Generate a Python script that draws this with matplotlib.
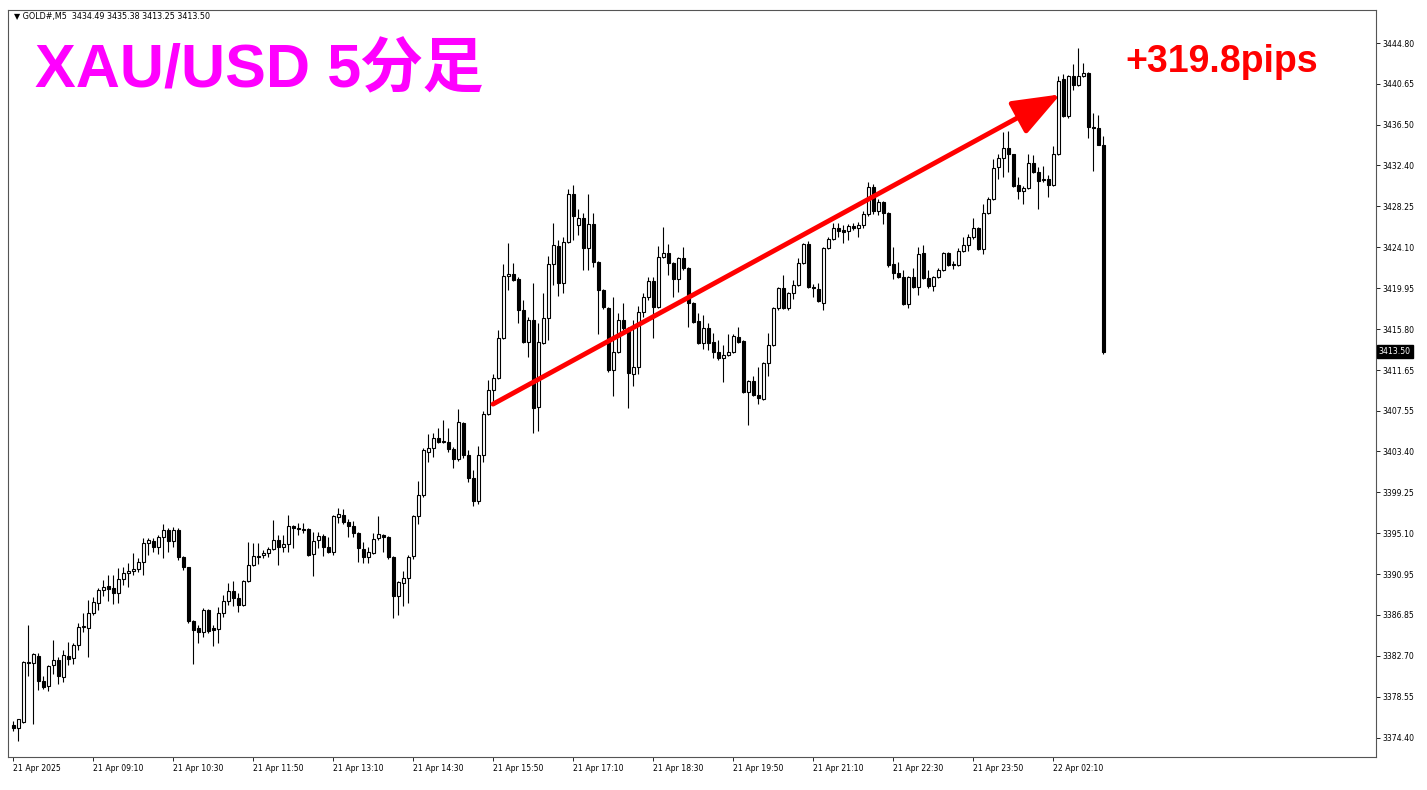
import matplotlib
matplotlib.use("Agg")
import matplotlib.pyplot as plt

# 5-minute candles, 21 Apr 2025 07:50 -> 22 Apr 03:00 (server time)
opens = [
    3375.7, 3375.4, 3376.0, 3382.1, 3382.0, 3382.7, 3380.1, 3379.6, 3381.8, 3382.3,
    3380.5, 3382.7, 3382.5, 3383.8, 3385.6, 3385.5, 3387.0, 3388.0, 3389.4, 3389.8,
    3389.6, 3389.1, 3390.5, 3391.1, 3391.3, 3391.5, 3392.2, 3394.1, 3394.3, 3393.7,
    3394.7, 3395.4, 3394.3, 3395.4, 3392.7, 3391.7, 3386.2, 3385.5, 3385.1, 3387.3,
    3385.5, 3385.4, 3387.0, 3388.2, 3389.3, 3388.5, 3387.8, 3390.3, 3391.9, 3392.8,
    3392.9, 3393.1, 3393.5, 3394.4, 3393.7, 3394.0, 3395.8, 3395.6, 3395.5, 3395.5,
    3393.0, 3394.4, 3394.8, 3393.7, 3393.2, 3396.8, 3397.0, 3396.3, 3395.8, 3395.1,
    3393.5, 3392.7, 3393.1, 3394.6, 3394.9, 3394.7, 3392.7, 3388.8, 3390.1, 3390.6,
    3392.8, 3396.9, 3399.0, 3403.3, 3403.8, 3404.8, 3404.4, 3404.4, 3403.6, 3402.6,
    3406.3, 3403.0, 3400.7, 3398.4, 3403.0, 3407.2, 3409.6, 3410.8, 3414.9, 3421.2,
    3421.4, 3420.9, 3417.7, 3414.5, 3416.7, 3407.9, 3414.4, 3416.9, 3422.4, 3424.2,
    3420.5, 3424.6, 3429.5, 3426.4, 3427.1, 3424.0, 3426.5, 3422.6, 3419.8, 3417.9,
    3411.7, 3413.5, 3416.7, 3415.9, 3411.3, 3412.0, 3417.5, 3419.1, 3420.7, 3418.0,
    3423.1, 3423.5, 3422.5, 3420.9, 3423.0, 3422.0, 3418.5, 3416.6, 3414.4, 3415.9,
    3414.5, 3413.5, 3412.9, 3413.2, 3413.5, 3415.0, 3414.6, 3409.4, 3410.5, 3409.1,
    3408.7, 3412.4, 3414.2, 3417.9, 3420.0, 3417.9, 3419.5, 3420.3, 3422.5, 3424.4,
    3420.1, 3419.9, 3418.5, 3424.0, 3424.9, 3426.1, 3425.8, 3425.7, 3426.3, 3426.1,
    3426.4, 3427.5, 3430.2, 3427.8, 3428.7, 3427.6, 3422.4, 3421.5, 3421.1, 3418.3,
    3421.1, 3420.1, 3423.5, 3421.0, 3420.2, 3421.1, 3421.8, 3423.5, 3422.4, 3422.3,
    3423.7, 3424.3, 3425.1, 3426.1, 3423.9, 3427.6, 3429.0, 3432.2, 3433.1, 3434.2,
    3433.6, 3430.4, 3429.8, 3430.1, 3432.6, 3431.7, 3430.9, 3431.0, 3430.4, 3433.6,
    3441.2, 3437.4, 3441.5, 3440.5, 3441.5, 3441.8, 3436.3, 3436.2, 3434.49,
]
highs = [
    3376.1, 3376.3, 3382.2, 3385.8, 3383.0, 3383.0, 3380.6, 3381.8, 3384.3, 3382.6,
    3383.3, 3384.1, 3384.0, 3386.0, 3387.0, 3388.3, 3388.6, 3389.6, 3390.4, 3390.9,
    3390.9, 3391.6, 3391.7, 3392.1, 3393.1, 3392.6, 3394.6, 3394.6, 3394.6, 3394.9,
    3396.0, 3395.6, 3395.7, 3395.6, 3392.8, 3391.7, 3386.3, 3385.8, 3387.5, 3387.4,
    3385.8, 3387.6, 3388.9, 3390.1, 3390.3, 3389.1, 3390.4, 3394.2, 3394.1, 3394.1,
    3393.4, 3393.7, 3396.5, 3394.9, 3394.9, 3397.0, 3395.9, 3396.1, 3396.2, 3395.6,
    3395.2, 3395.2, 3395.0, 3394.7, 3397.0, 3397.7, 3397.6, 3396.6, 3396.4, 3395.2,
    3394.2, 3393.7, 3395.1, 3396.9, 3395.0, 3394.8, 3392.8, 3390.3, 3391.3, 3392.9,
    3397.0, 3400.4, 3403.8, 3405.2, 3405.3, 3405.8, 3406.6, 3405.8, 3403.9, 3407.7,
    3406.4, 3403.5, 3401.5, 3404.0, 3407.5, 3410.6, 3411.3, 3415.7, 3422.4, 3424.5,
    3422.5, 3421.1, 3418.8, 3417.0, 3420.5, 3416.4, 3419.5, 3423.2, 3426.6, 3424.8,
    3425.1, 3430.0, 3430.4, 3428.0, 3427.6, 3429.5, 3427.6, 3422.7, 3419.9, 3418.0,
    3419.1, 3417.4, 3418.5, 3416.0, 3416.7, 3418.1, 3419.5, 3421.1, 3421.1, 3424.2,
    3426.2, 3424.4, 3422.6, 3423.1, 3424.1, 3422.1, 3418.6, 3417.4, 3417.2, 3416.4,
    3415.4, 3414.7, 3414.2, 3415.3, 3415.3, 3416.0, 3414.7, 3410.6, 3411.1, 3412.0,
    3412.5, 3415.4, 3418.0, 3420.1, 3421.3, 3419.6, 3420.8, 3423.0, 3424.5, 3424.7,
    3420.4, 3420.5, 3424.1, 3425.1, 3426.6, 3426.6, 3426.4, 3426.5, 3426.6, 3426.7,
    3427.8, 3430.7, 3430.5, 3429.0, 3428.8, 3427.7, 3424.1, 3422.6, 3421.8, 3421.2,
    3422.0, 3424.1, 3424.3, 3421.8, 3421.2, 3422.0, 3423.6, 3423.6, 3422.7, 3424.0,
    3425.1, 3425.4, 3427.1, 3426.2, 3428.5, 3429.2, 3433.0, 3433.6, 3435.8, 3435.9,
    3433.6, 3431.2, 3430.3, 3433.6, 3433.5, 3432.2, 3432.3, 3431.4, 3434.4, 3441.5,
    3441.7, 3441.6, 3442.7, 3444.3, 3442.8, 3441.9, 3437.7, 3437.5, 3435.38,
]
lows = [
    3375.1, 3374.1, 3375.9, 3380.6, 3375.8, 3379.2, 3379.3, 3379.1, 3380.8, 3379.8,
    3380.0, 3381.8, 3381.9, 3383.3, 3385.1, 3382.6, 3386.8, 3387.3, 3388.7, 3388.2,
    3387.9, 3388.0, 3389.9, 3389.7, 3390.9, 3391.2, 3390.9, 3392.9, 3393.2, 3393.0,
    3392.6, 3393.2, 3393.7, 3392.4, 3391.4, 3386.0, 3381.9, 3384.0, 3384.6, 3385.0,
    3383.7, 3384.0, 3386.6, 3387.8, 3387.7, 3387.1, 3387.7, 3390.2, 3391.8, 3392.0,
    3392.6, 3392.7, 3393.4, 3391.9, 3393.2, 3393.2, 3393.6, 3394.9, 3395.1, 3392.8,
    3390.8, 3393.6, 3392.8, 3393.1, 3392.9, 3396.1, 3396.0, 3394.7, 3394.7, 3392.2,
    3392.1, 3392.1, 3393.0, 3394.4, 3393.2, 3392.5, 3386.5, 3386.8, 3387.7, 3388.0,
    3392.5, 3396.0, 3398.8, 3402.3, 3402.8, 3404.3, 3404.3, 3403.3, 3401.7, 3402.4,
    3402.7, 3400.3, 3397.9, 3398.1, 3402.3, 3407.1, 3408.5, 3410.7, 3414.8, 3419.8,
    3420.7, 3416.4, 3414.4, 3413.0, 3405.3, 3405.5, 3414.3, 3414.7, 3420.3, 3419.2,
    3419.5, 3424.5, 3424.8, 3425.3, 3421.8, 3421.8, 3422.1, 3415.3, 3417.8, 3411.5,
    3409.0, 3413.4, 3415.7, 3407.8, 3410.0, 3411.3, 3417.0, 3418.8, 3414.9, 3417.9,
    3423.0, 3421.3, 3419.1, 3419.6, 3421.8, 3416.0, 3416.4, 3414.3, 3413.8, 3413.7,
    3412.9, 3412.7, 3410.4, 3413.1, 3413.4, 3414.4, 3409.3, 3406.1, 3409.0, 3408.2,
    3408.6, 3411.1, 3414.1, 3417.7, 3417.8, 3417.7, 3418.9, 3420.2, 3422.4, 3420.0,
    3419.1, 3418.6, 3417.7, 3423.9, 3424.8, 3425.1, 3424.5, 3424.8, 3425.9, 3425.1,
    3426.1, 3427.3, 3427.5, 3427.4, 3426.5, 3422.1, 3420.9, 3421.0, 3418.2, 3417.9,
    3420.0, 3419.3, 3420.9, 3420.0, 3419.7, 3421.0, 3421.7, 3422.2, 3421.9, 3422.2,
    3423.6, 3423.7, 3424.9, 3423.8, 3423.4, 3427.5, 3428.9, 3431.0, 3431.2, 3431.7,
    3430.2, 3429.0, 3428.5, 3430.0, 3431.6, 3428.0, 3430.7, 3429.2, 3430.3, 3433.5,
    3437.3, 3437.2, 3440.0, 3440.4, 3441.4, 3435.2, 3431.8, 3434.5, 3413.25,
]
closes = [
    3375.4, 3376.3, 3382.1, 3382.0, 3382.9, 3380.1, 3379.5, 3381.7, 3382.3, 3380.6,
    3382.8, 3382.4, 3383.8, 3385.6, 3385.7, 3387.0, 3388.1, 3389.4, 3389.7, 3389.5,
    3389.1, 3390.5, 3391.1, 3391.3, 3391.5, 3392.2, 3394.1, 3394.4, 3393.7, 3394.7,
    3395.4, 3394.3, 3395.4, 3392.7, 3391.7, 3386.2, 3385.3, 3385.1, 3387.3, 3385.2,
    3385.3, 3387.0, 3388.2, 3389.3, 3388.5, 3387.8, 3390.3, 3391.9, 3392.8, 3392.7,
    3393.1, 3393.5, 3394.4, 3393.7, 3394.0, 3395.8, 3395.6, 3395.5, 3395.4, 3392.9,
    3394.3, 3394.8, 3393.7, 3393.2, 3396.9, 3397.1, 3396.3, 3395.8, 3395.1, 3393.6,
    3392.7, 3393.2, 3394.5, 3395.0, 3394.7, 3392.7, 3388.8, 3390.2, 3390.6, 3392.7,
    3396.9, 3399.0, 3403.5, 3403.8, 3404.8, 3404.4, 3404.5, 3403.6, 3402.6, 3406.4,
    3403.0, 3400.7, 3398.4, 3403.0, 3407.2, 3409.6, 3410.8, 3414.9, 3421.2, 3421.4,
    3420.8, 3417.7, 3414.5, 3416.7, 3407.8, 3414.5, 3416.9, 3422.4, 3424.3, 3420.5,
    3424.6, 3429.5, 3427.3, 3427.1, 3424.0, 3426.5, 3422.6, 3419.8, 3418.0, 3411.7,
    3413.5, 3416.7, 3415.9, 3411.4, 3412.0, 3417.5, 3419.1, 3420.7, 3418.0, 3423.1,
    3423.5, 3422.5, 3420.9, 3423.0, 3422.0, 3418.5, 3416.5, 3414.4, 3415.9, 3414.4,
    3413.5, 3412.9, 3413.2, 3413.5, 3415.1, 3414.5, 3409.4, 3410.5, 3409.1, 3408.8,
    3412.4, 3414.2, 3417.9, 3420.0, 3417.9, 3419.5, 3420.3, 3422.5, 3424.4, 3420.1,
    3420.0, 3418.7, 3424.0, 3424.9, 3426.1, 3425.7, 3425.6, 3426.3, 3426.1, 3426.4,
    3427.5, 3430.2, 3427.8, 3428.7, 3427.6, 3422.3, 3421.5, 3421.1, 3418.3, 3421.1,
    3420.1, 3423.4, 3421.0, 3420.2, 3421.1, 3421.8, 3423.5, 3422.3, 3422.3, 3423.7,
    3424.3, 3425.1, 3426.1, 3423.9, 3427.6, 3429.0, 3432.1, 3433.1, 3434.2, 3433.6,
    3430.3, 3429.8, 3430.1, 3432.6, 3431.7, 3430.8, 3431.0, 3430.4, 3433.6, 3441.0,
    3437.4, 3441.5, 3440.5, 3441.5, 3441.8, 3436.3, 3436.2, 3434.5, 3413.50,
]

# time axis labels (every 16 bars)
time_labels = ["21 Apr 2025", "21 Apr 09:10", "21 Apr 10:30", "21 Apr 11:50",
               "21 Apr 13:10", "21 Apr 14:30", "21 Apr 15:50", "21 Apr 17:10",
               "21 Apr 18:30", "21 Apr 19:50", "21 Apr 21:10", "21 Apr 22:30",
               "21 Apr 23:50", "22 Apr 02:10"]
label_step = 16

price_ticks = [3444.80, 3440.65, 3436.50, 3432.40, 3428.25, 3424.10, 3419.95,
               3415.80, 3411.65, 3407.55, 3403.40, 3399.25, 3395.10, 3390.95,
               3386.85, 3382.70, 3378.55, 3374.40]

# the trend arrow (bar index, price) and its gain text
arrow_start = (96, 3408.2)
arrow_end = (209.5, 3439.6)
gain_text = "+319.8pips"
title_text = "XAU/USD 5分足"
header_text = "GOLD#,M5  3434.49 3435.38 3413.25 3413.50"

fig = plt.figure(figsize=(14.27, 7.90), dpi=100)
ax = fig.add_axes([8 / 1427, 33 / 790, 1368 / 1427, 747 / 790])

x = list(range(len(opens)))

# wicks first, bodies on top
ax.vlines(x, lows, highs, color="black", linewidth=0.8, zorder=2)
for i in x:
    o, c = opens[i], closes[i]
    bottom = min(o, c)
    height = max(abs(c - o), 0.06)
    face = "white" if c >= o else "black"
    ax.bar(i, height, bottom=bottom, width=0.6, color=face,
           edgecolor="black", linewidth=0.8, zorder=3)

ax.set_xlim(-1, 272.6)
ax.set_ylim(3372.43, 3448.15)

# price scale on the right like the terminal
ax.yaxis.tick_right()
ax.set_yticks(price_ticks)
ax.set_yticklabels([f"{p:.2f}" for p in price_ticks], fontsize=5.6)
ax.tick_params(axis="y", direction="out", length=3, width=0.6, pad=1.5)

ticks = [k * label_step for k in range(len(time_labels))]
ax.set_xticks(ticks)
ax.set_xticklabels(time_labels, fontsize=5.6, ha="left")
ax.tick_params(axis="x", direction="out", length=3, width=0.6, pad=2)

for s in ax.spines.values():
    s.set_color("#555555")
    s.set_linewidth(0.8)

# last price box
ax.text(1.002, closes[-1], f"{closes[-1]:.2f}", transform=ax.get_yaxis_transform(),
        fontsize=5.6, color="white", va="center", ha="left",
        bbox=dict(boxstyle="square,pad=0.25", fc="black", ec="black"))

# red arrow
ax.annotate("", xy=arrow_end, xytext=arrow_start,
            arrowprops=dict(arrowstyle="-|>,head_length=2.1,head_width=0.8",
                            color="#ff0000", lw=3.5, mutation_scale=14,
                            shrinkA=0, shrinkB=0), zorder=5)

fig.text(14 / 1427, 1 - 17 / 790, "▼ " + header_text, fontsize=5.8,
         va="center", ha="left", family="DejaVu Sans")
fig.text(35 / 1427, 1 - 72 / 790, title_text, fontsize=44, fontweight="bold",
         color="#ff00ff", va="center", ha="left",
         family=["Liberation Sans", "Noto Sans CJK JP"])
fig.text(1125 / 1427, 1 - 62 / 790, gain_text, fontsize=27, fontweight="bold",
         color="#ff0000", va="center", ha="left", family=["Liberation Sans"])

fig.savefig("out.png", dpi=100, facecolor="white")
